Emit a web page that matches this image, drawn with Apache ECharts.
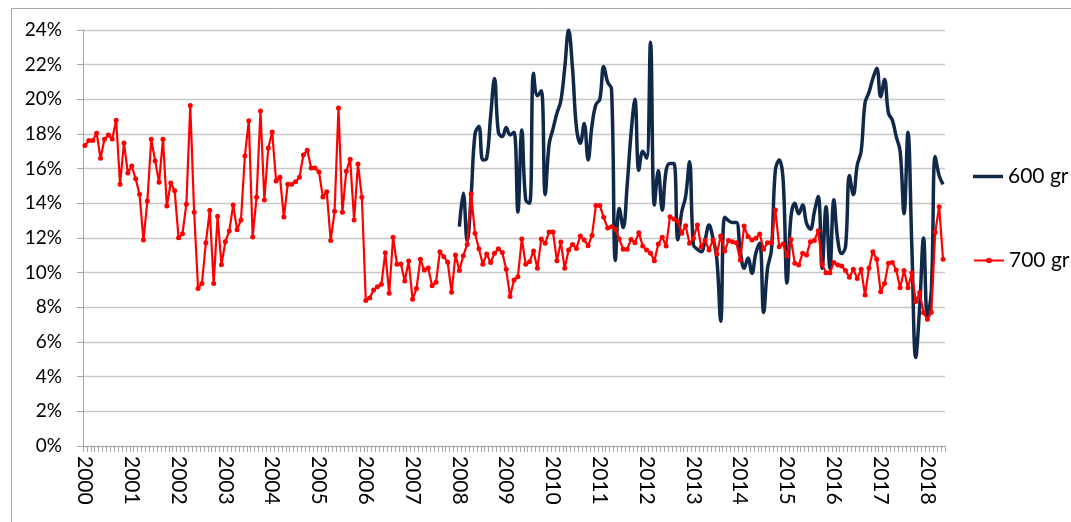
<!DOCTYPE html>
<html>
<head>
<meta charset="utf-8">
<script src="https://cdn.jsdelivr.net/npm/echarts@6/dist/echarts.min.js"></script>
<style>
  html, body { margin: 0; padding: 0; background: #fff; }
  #chart { width: 1071px; height: 522px; }
</style>
</head>
<body>
<div id="chart"></div>
<script>
// monthly series, Jan 2000 .. May 2018
const firstYear = 2000;
const monthCount = 221;
const yTicks = [0, 2, 4, 6, 8, 10, 12, 14, 16, 18, 20, 22, 24];

// 700 gr, % per month starting Jan 2000
const gr700 = [
  17.33, 17.63, 17.63, 18.04, 16.6, 17.7, 17.94, 17.71, 18.79, 15.1, 17.48, 15.75,
  16.15, 15.42, 14.52, 11.88, 14.13, 17.69, 16.46, 15.21, 17.69, 13.85, 15.17, 14.73,
  12.02, 12.25, 13.94, 19.65, 13.48, 9.08, 9.38, 11.73, 13.6, 9.37, 13.25, 10.46,
  11.79, 12.4, 13.9, 12.48, 13.04, 16.73, 18.77, 12.06, 14.35, 19.33, 14.19, 17.19,
  18.12, 15.29, 15.5, 13.21, 15.1, 15.1, 15.25, 15.5, 16.79, 17.06, 16.04, 16.04,
  15.81, 14.37, 14.67, 11.85, 13.54, 19.5, 13.48, 15.85, 16.54, 13.04, 16.27, 14.35,
  8.4, 8.54, 9.0, 9.19, 9.33, 11.15, 8.81, 12.04, 10.48, 10.5, 9.52, 10.67,
  8.46, 9.08, 10.77, 10.15, 10.27, 9.25, 9.44, 11.21, 10.92, 10.6, 8.87, 11.02,
  10.12, 10.98, 11.63, 14.54, 12.27, 11.38, 10.48, 11.08, 10.58, 11.12, 11.38, 11.17,
  10.19, 8.62, 9.58, 9.77, 11.94, 10.48, 10.63, 11.25, 10.25, 11.94, 11.69, 12.35,
  12.35, 10.69, 11.77, 10.25, 11.31, 11.63, 11.4, 12.12, 11.88, 11.56, 12.15, 13.87,
  13.87, 13.19, 12.58, 12.65, 12.5, 11.94, 11.35, 11.35, 11.92, 11.73, 12.31, 11.54,
  11.31, 11.12, 10.69, 11.65, 12.04, 11.54, 13.23, 13.1, 12.98, 12.27, 12.71, 11.69,
  11.98, 12.75, 11.5, 11.85, 11.31, 11.88, 11.08, 12.12, 11.25, 11.85, 11.79, 11.73,
  10.73, 12.69, 12.08, 11.88, 11.98, 12.23, 11.35, 11.73, 11.73, 13.62, 11.5, 11.65,
  10.96, 11.92, 10.54, 10.44, 11.12, 11.02, 11.79, 11.85, 12.42, 10.48, 10.0, 10.0,
  10.58, 10.44, 10.38, 10.12, 9.73, 10.19, 9.67, 10.19, 8.71, 10.25, 11.21, 10.77,
  8.9, 9.38, 10.54, 10.58, 10.15, 9.13, 10.12, 9.13, 10.0, 8.33, 8.85, 7.69,
  7.31, 7.71, 12.33, 13.81, 10.77
];

// 600 gr, starts Jan 2008 (month index 96)
const gr600Start = 96;
const gr600 = [
  12.65, 14.58, 11.8, 14.4, 18.0, 18.45, 16.5, 16.6, 19.0, 21.2, 18.1, 17.85,
  18.37, 17.94, 18.1, 13.5, 18.23, 14.2, 14.0, 21.5, 20.2, 20.5, 14.5, 17.4,
  18.3, 19.2, 19.9, 21.8, 24.0, 21.8, 18.4, 17.46, 18.6, 16.5, 18.5, 19.7,
  20.0, 21.9, 21.0, 20.6, 10.7, 13.7, 12.6, 15.0, 18.0, 20.0, 15.9, 17.0,
  16.6, 23.3, 13.9, 15.9, 13.6, 15.9, 16.3, 16.3, 11.9, 13.5, 14.4, 16.4,
  11.6, 11.35, 11.2, 11.9, 12.75, 12.0, 10.8, 7.2, 13.2, 13.0, 12.9, 12.9,
  11.3, 10.25, 10.85, 9.96, 11.12, 11.7, 7.7, 10.25, 11.3, 15.9, 16.5, 15.35,
  9.4, 13.2, 14.0, 13.4, 13.9, 12.85, 12.5, 13.5, 14.4, 10.25, 13.8, 10.25,
  14.2, 11.9, 11.1, 11.5, 15.6, 14.5, 16.2, 17.0, 19.8, 20.4, 21.2, 21.8,
  20.15, 21.15, 19.2, 18.8, 17.85, 17.0, 13.4, 18.1, 11.5, 5.1, 8.0, 12.0,
  7.4, 9.0, 16.7, 15.6, 15.1
];

const months = [];
for (let i = 0; i < monthCount; i++) {
  const y = firstYear + Math.floor(i / 12);
  const m = (i % 12) + 1;
  months.push(y + '-' + (m < 10 ? '0' + m : m));
}
const gr600Full = months.map((_, i) => {
  const k = i - gr600Start;
  return k >= 0 && k < gr600.length ? gr600[k] : null;
});

const font = 'Lato, "Open Sans", sans-serif';
const navy = '#10294a';
const red = '#ff0000';
const chart = echarts.init(document.getElementById('chart'), null, { renderer: 'canvas' });

chart.setOption({
  animation: false,
  backgroundColor: '#fff',
  textStyle: { fontFamily: font },
  graphic: [{
    type: 'rect',
    shape: { x: 11.5, y: 8.5, width: 1080, height: 540 },
    style: { fill: 'none', stroke: '#a6a6a6', lineWidth: 1 },
    silent: true
  }],
  grid: { left: 83, right: 126, top: 30, bottom: 76, containLabel: false },
  legend: [
    {
      data: [{ name: '600 gr', icon: 'rect' }],
      left: 968, top: 161, itemWidth: 30, itemHeight: 3.5, itemGap: 4,
      itemStyle: { color: navy },
      textStyle: { fontSize: 21, color: '#000', fontFamily: font, padding: [0, 0, 0, 0] }
    },
    {
      data: ['700 gr'],
      left: 968, top: 245, itemWidth: 30, itemHeight: 7, itemGap: 4,
      textStyle: { fontSize: 21, color: '#000', fontFamily: font }
    }
  ],
  xAxis: {
    type: 'category',
    data: months,
    boundaryGap: true,
    axisLine: { lineStyle: { color: '#a6a6a6', width: 1 } },
    axisTick: { show: true, interval: 0, length: 6, lineStyle: { color: '#a6a6a6' } },
    axisLabel: {
      interval: 11,
      rotate: -90,
      margin: 10,
      fontSize: 21,
      color: '#000',
      fontFamily: font,
      formatter: v => v.slice(0, 4)
    },
    splitLine: { show: false }
  },
  yAxis: {
    type: 'value',
    min: yTicks[0],
    max: yTicks[yTicks.length - 1],
    interval: 2,
    axisLine: { show: true, lineStyle: { color: '#a6a6a6' } },
    axisTick: { show: true, inside: false, length: 6, lineStyle: { color: '#a6a6a6' } },
    axisLabel: { formatter: '{value}%', fontSize: 19, color: '#000', margin: 21, fontFamily: font },
    splitLine: { lineStyle: { color: '#c8c8c8', width: 1.3 } }
  },
  series: [
    {
      name: '600 gr',
      type: 'line',
      data: gr600Full,
      smooth: 0.4,
      showSymbol: false,
      symbol: 'none',
      connectNulls: false,
      lineStyle: { color: navy, width: 3.5 },
      itemStyle: { color: navy },
      z: 2
    },
    {
      name: '700 gr',
      type: 'line',
      data: gr700,
      symbol: 'circle',
      symbolSize: 5,
      showSymbol: true,
      showAllSymbol: true,
      lineStyle: { color: red, width: 2.2 },
      itemStyle: { color: red },
      z: 3
    }
  ]
});
</script>
</body>
</html>
